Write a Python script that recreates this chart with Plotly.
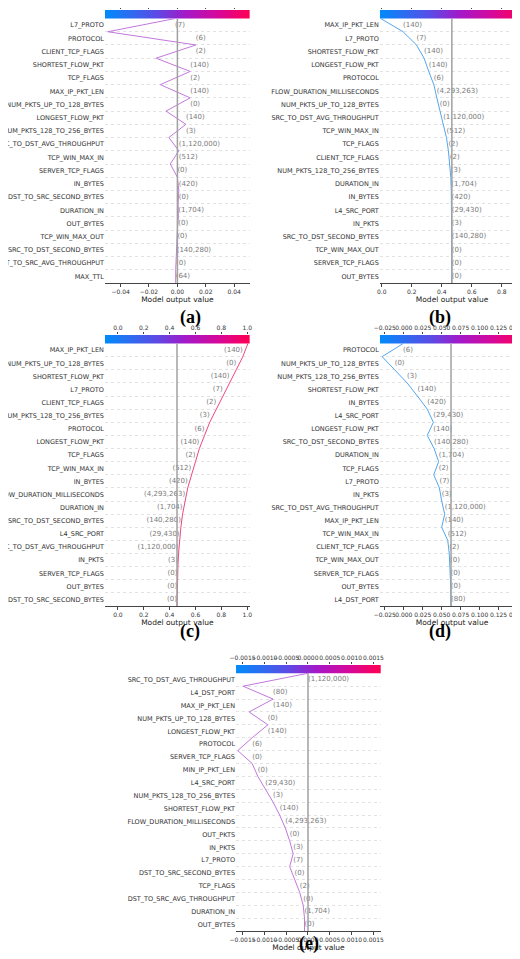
import plotly.graph_objects as go

# feature order top -> bottom, value labels, cumulative output at row boundaries (top -> bottom)
feat_a = ["L7_PROTO", "PROTOCOL", "CLIENT_TCP_FLAGS", "SHORTEST_FLOW_PKT", "TCP_FLAGS", "MAX_IP_PKT_LEN",
          "NUM_PKTS_UP_TO_128_BYTES", "LONGEST_FLOW_PKT", "NUM_PKTS_128_TO_256_BYTES", "SRC_TO_DST_AVG_THROUGHPUT",
          "TCP_WIN_MAX_IN", "SERVER_TCP_FLAGS", "IN_BYTES", "DST_TO_SRC_SECOND_BYTES", "DURATION_IN", "OUT_BYTES",
          "TCP_WIN_MAX_OUT", "SRC_TO_DST_SECOND_BYTES", "DST_TO_SRC_AVG_THROUGHPUT", "MAX_TTL"]
vals_a = ["(7)", "(6)", "(2)", "(140)", "(2)", "(140)", "(0)", "(140)", "(3)", "(1,120,000)", "(512)", "(0)",
          "(420)", "(0)", "(1,704)", "(0)", "(0)", "(140,280)", "(0)", "(64)"]
cum_a = [-0.0016, -0.049, 0.013, -0.015, 0.009, -0.012, 0.009, -0.008, 0.006, -0.006, 0.001, -0.005, 0.0,
         0.001, 0.0005, 0.0007, 0.0, -0.0005, -0.001, -0.0012, -0.0012]

feat_b = ["MAX_IP_PKT_LEN", "L7_PROTO", "SHORTEST_FLOW_PKT", "LONGEST_FLOW_PKT", "PROTOCOL",
          "FLOW_DURATION_MILLISECONDS", "NUM_PKTS_UP_TO_128_BYTES", "SRC_TO_DST_AVG_THROUGHPUT", "TCP_WIN_MAX_IN",
          "TCP_FLAGS", "CLIENT_TCP_FLAGS", "NUM_PKTS_128_TO_256_BYTES", "DURATION_IN", "IN_BYTES", "L4_SRC_PORT",
          "IN_PKTS", "SRC_TO_DST_SECOND_BYTES", "TCP_WIN_MAX_OUT", "SERVER_TCP_FLAGS", "OUT_BYTES"]
vals_b = ["(140)", "(7)", "(140)", "(140)", "(6)", "(4,293,263)", "(0)", "(1,120,000)", "(512)", "(2)", "(2)",
          "(3)", "(1,704)", "(420)", "(29,430)", "(3)", "(140,280)", "(0)", "(0)", "(0)"]
cum_b = [-0.007, 0.142, 0.231, 0.282, 0.313, 0.347, 0.367, 0.387, 0.409, 0.431, 0.444, 0.453, 0.46, 0.463,
         0.465, 0.466, 0.467, 0.467, 0.467, 0.467, 0.467]

feat_c = ["MAX_IP_PKT_LEN", "NUM_PKTS_UP_TO_128_BYTES", "SHORTEST_FLOW_PKT", "L7_PROTO", "CLIENT_TCP_FLAGS",
          "NUM_PKTS_128_TO_256_BYTES", "PROTOCOL", "LONGEST_FLOW_PKT", "TCP_FLAGS", "TCP_WIN_MAX_IN", "IN_BYTES",
          "FLOW_DURATION_MILLISECONDS", "DURATION_IN", "SRC_TO_DST_SECOND_BYTES", "L4_SRC_PORT",
          "SRC_TO_DST_AVG_THROUGHPUT", "IN_PKTS", "SERVER_TCP_FLAGS", "OUT_BYTES", "DST_TO_SRC_SECOND_BYTES"]
vals_c = ["(140)", "(0)", "(140)", "(7)", "(2)", "(3)", "(6)", "(140)", "(2)", "(512)", "(420)", "(4,293,263)",
          "(1,704)", "(140,280)", "(29,430)", "(1,120,000)", "(3)", "(0)", "(0)", "(0)"]
cum_c = [1.005, 0.966, 0.915, 0.863, 0.81, 0.76, 0.71, 0.67, 0.63, 0.6, 0.567, 0.54, 0.52, 0.5, 0.487, 0.477,
         0.469, 0.464, 0.461, 0.459, 0.457]

feat_d = ["PROTOCOL", "NUM_PKTS_UP_TO_128_BYTES", "NUM_PKTS_128_TO_256_BYTES", "SHORTEST_FLOW_PKT", "IN_BYTES",
          "L4_SRC_PORT", "LONGEST_FLOW_PKT", "SRC_TO_DST_SECOND_BYTES", "DURATION_IN", "TCP_FLAGS", "L7_PROTO",
          "IN_PKTS", "SRC_TO_DST_AVG_THROUGHPUT", "MAX_IP_PKT_LEN", "TCP_WIN_MAX_IN", "CLIENT_TCP_FLAGS",
          "TCP_WIN_MAX_OUT", "SERVER_TCP_FLAGS", "OUT_BYTES", "L4_DST_PORT"]
vals_d = ["(6)", "(0)", "(3)", "(140)", "(420)", "(29,430)", "(140)", "(140,280)", "(1,704)", "(2)", "(7)", "(3)",
          "(1,120,000)", "(140)", "(512)", "(2)", "(0)", "(0)", "(0)", "(80)"]
cum_d = [-0.001, -0.0285, -0.012, 0.0044, 0.018, 0.031, 0.039, 0.031, 0.040, 0.046, 0.0395, 0.047, 0.050,
         0.054, 0.050, 0.058, 0.060, 0.061, 0.0615, 0.062, 0.0623]

feat_e = ["SRC_TO_DST_AVG_THROUGHPUT", "L4_DST_PORT", "MAX_IP_PKT_LEN", "NUM_PKTS_UP_TO_128_BYTES",
          "LONGEST_FLOW_PKT", "PROTOCOL", "SERVER_TCP_FLAGS", "MIN_IP_PKT_LEN", "L4_SRC_PORT",
          "NUM_PKTS_128_TO_256_BYTES", "SHORTEST_FLOW_PKT", "FLOW_DURATION_MILLISECONDS", "OUT_PKTS", "IN_PKTS",
          "L7_PROTO", "DST_TO_SRC_SECOND_BYTES", "TCP_FLAGS", "DST_TO_SRC_AVG_THROUGHPUT", "DURATION_IN", "OUT_BYTES"]
vals_e = ["(1,120,000)", "(80)", "(140)", "(0)", "(140)", "(6)", "(0)", "(0)", "(29,430)", "(3)", "(140)",
          "(4,293,263)", "(0)", "(3)", "(7)", "(0)", "(2)", "(0)", "(1,704)", "(0)"]
cum_e = [0.0, -0.00149, -0.0008, -0.00135, -0.00092, -0.00128, -0.00161, -0.00128, -0.00115, -0.00098, -0.0008,
         -0.00065, -0.00052, -0.00042, -0.00034, -0.00042, -0.00031, -0.00019, -0.00011, -0.00008, -0.00008]

base_vals = [0.0, 0.467, 0.457, 0.0623, 0.0]

shap_scale = [[0, "#008bfb"], [0.35, "#5a4ce6"], [0.55, "#a21ac9"], [0.78, "#d6089a"], [1, "#ff0052"]]
font = "DejaVu Sans"

panels = [
    dict(feat=feat_a, vals=vals_a, cum=cum_a, line="#c278dc", rng=[-0.051, 0.051], dtick=0.02, fmt=".2f",
         xd=[0.1865, 0.465], yd=[0.7132, 0.998], tag="(a)", tagx=0.327, tagy=1 - 297 / 959, left=False),
    dict(feat=feat_b, vals=vals_b, cum=cum_b, line="#54a6ee", rng=[-0.013, 0.95], dtick=0.2, fmt=".1f",
         xd=[0.715, 0.993], yd=[0.7132, 0.998], tag="(b)", tagx=0.855, tagy=1 - 297 / 959, left=False),
    dict(feat=feat_c, vals=vals_c, cum=cum_c, line="#f0457e", rng=[-0.1, 1.02], dtick=0.2, fmt=".1f",
         xd=[0.1865, 0.465], yd=[0.3764, 0.659], tag="(c)", tagx=0.327, tagy=1 - 623 / 959, left=True),
    dict(feat=feat_d, vals=vals_d, cum=cum_d, line="#54a6ee", rng=[-0.0316, 0.159], dtick=0.025, fmt=".3f",
         xd=[0.715, 0.993], yd=[0.3764, 0.659], tag="(d)", tagx=0.855, tagy=1 - 623 / 959, left=False),
    dict(feat=feat_e, vals=vals_e, cum=cum_e, line="#c278dc", rng=[-0.00165, 0.00167], dtick=0.0005, fmt=".4f",
         xd=[0.4385, 0.717], yd=[0.0375, 0.315], tag="(e)", tagx=0.578, tagy=1 - 948 / 959, left=False),
]

fig = go.Figure()
layout = {}
for k, p in enumerate(panels, start=1):
    n = len(p["feat"])
    xa, ya = ("x" if k == 1 else f"x{k}"), ("y" if k == 1 else f"y{k}")
    rows = list(range(n - 1, -1, -1))
    bounds = [n - 0.5 - i for i in range(n + 1)]
    # colour bar band
    x0, x1 = p["rng"]
    fig.add_trace(go.Scatter(x=[x0, x1, x1, x0, x0], y=[n - 0.5, n - 0.5, n + 0.15, n + 0.15, n - 0.5],
                             xaxis=xa, yaxis=ya, mode="lines", line=dict(width=0), fill="toself",
                             fillgradient=dict(type="horizontal", colorscale=shap_scale),
                             hoverinfo="skip", showlegend=False))
    fig.add_shape(type="line", xref=xa, yref=ya, x0=base_vals[k - 1], x1=base_vals[k - 1], y0=-0.5, y1=n - 0.5,
                  line=dict(color="#a0a0a0", width=1.5))
    fig.add_trace(go.Scatter(x=p["cum"], y=bounds, xaxis=xa, yaxis=ya, mode="lines",
                             line=dict(color=p["line"], width=1), showlegend=False))
    if p["left"]:
        tx = [min(p["cum"][i], p["cum"][i + 1]) for i in range(n)]
        pos = "middle left"
    else:
        tx = [max(p["cum"][i], p["cum"][i + 1]) for i in range(n)]
        pos = "middle right"
    fig.add_trace(go.Scatter(x=tx, y=rows, xaxis=xa, yaxis=ya, mode="text", text=p["vals"],
                             textposition=pos, textfont=dict(size=7, color="#7a7a7a", family=font),
                             showlegend=False))
    tickfont = dict(size=6, family=font, color="#333")
    layout[f"xaxis{k if k > 1 else ''}"] = dict(
        domain=p["xd"], anchor=ya, range=p["rng"], dtick=p["dtick"], tickformat=p["fmt"], showgrid=False,
        zeroline=False, showline=True, linecolor="#444", ticks="outside", ticklen=3, tickcolor="#444",
        tickangle=0, automargin=False, tickfont=tickfont,
        title=dict(text="Model output value", font=dict(size=7.5, family=font, color="#222"), standoff=0))
    layout[f"xaxis{k + 5}"] = dict(
        overlaying=xa, anchor=ya, side="top", matches=xa, dtick=p["dtick"], tickformat=p["fmt"],
        showgrid=False, zeroline=False, showline=False, ticks="outside", ticklen=2, tickcolor="#444",
        tickangle=0, automargin=False, tickfont=tickfont)
    layout[f"yaxis{k if k > 1 else ''}"] = dict(
        domain=p["yd"], anchor=xa, range=[-0.5, n + 0.15], tickvals=rows, ticktext=p["feat"], showgrid=False,
        zeroline=False, showline=False, ticks="", automargin=False,
        tickfont=dict(size=6.5, family=font, color="#333"),
        minor=dict(tickvals=bounds[1:-1], showgrid=True, griddash="dot", gridcolor="#e2e2e2", gridwidth=1))
    fig.add_annotation(text="<b>" + p["tag"] + "</b>", xref="paper", yref="paper", x=p["tagx"], y=p["tagy"],
                       showarrow=False, font=dict(size=18, family="Liberation Serif", color="black"))

# dummy traces so the top axes render
for k in range(1, 6):
    fig.add_trace(go.Scatter(x=[None], y=[None], xaxis=f"x{k + 5}", yaxis="y" if k == 1 else f"y{k}",
                             showlegend=False, hoverinfo="skip"))

fig.update_layout(width=520, height=959, margin=dict(l=0, r=0, t=0, b=0), plot_bgcolor="white",
                  paper_bgcolor="white", showlegend=False, **layout)
fig.write_html("out.html")
